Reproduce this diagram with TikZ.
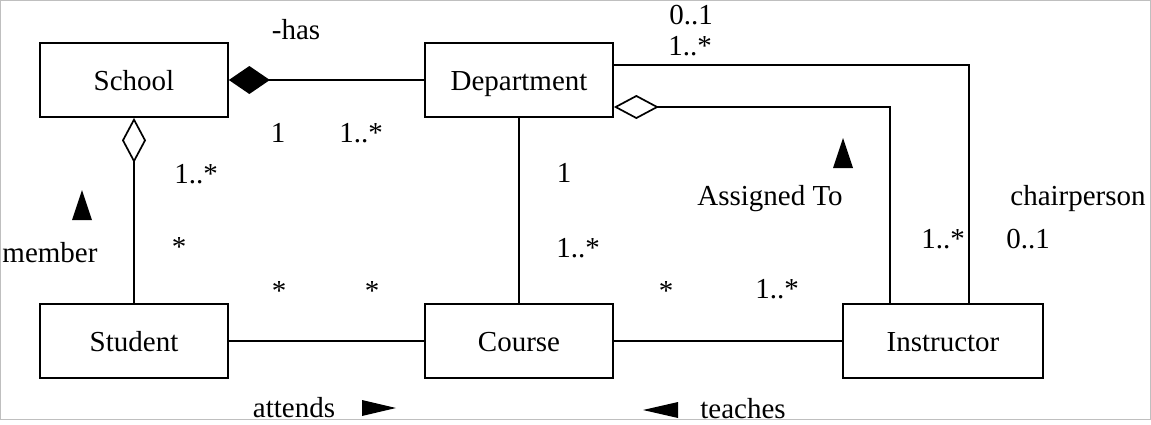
\documentclass[tikz,border=0pt]{standalone}
\usepackage{fontspec}
\setmainfont{Liberation Serif}
\usetikzlibrary{arrows.meta}
\begin{document}
\begin{tikzpicture}[x=1pt,y=-1pt,line width=1.7pt,
  fnt/.style={inner sep=0pt,font=\fontsize{29}{33}\selectfont},
  cls/.style={fnt,draw,text height=20pt,text depth=0pt,minimum width=188pt,minimum height=74pt},
  lbl/.style={fnt,anchor=base},
  mult/.style={fnt,anchor=base},
  dirtri/.style={fill=black,draw=none},
  comp/.style={{Diamond[length=41pt,width=28pt]}-},
  aggr/.style={{Diamond[open,length=45pt,width=24pt]}-}]
\useasboundingbox (0,0) rectangle (1151,424);
\draw[gray!50,line width=1pt] (0.5,0.5) rectangle (1150.5,419);
% classes
\node[cls] (sch) at (134,80) {School};
\node[cls] (dep) at (519,80) {Department};
\node[cls] (stu) at (134,341) {Student};
\node[cls] (crs) at (519,341) {Course};
\node[cls,minimum width=200pt] (ins) at (943,341) {Instructor};
% connectors
\draw[comp] (sch.east) -- (dep.west);
\draw[aggr] (sch.south) -- (stu.north);
\draw (dep.south) -- (crs.north);
\draw (stu.east) -- (crs.west);
\draw (crs.east) -- (ins.west);
\draw ([yshift=15pt]dep.east) -| ([xshift=26pt]ins.north);
\draw[aggr] ([yshift=-27pt]dep.east) -| ([xshift=-53pt]ins.north);
% direction triangles
\fill[dirtri] (82,190) -- (92,220) -- (72,220) -- cycle;
\fill[dirtri] (843,138) -- (853,168) -- (833,168) -- cycle;
\fill[dirtri] (362,400) -- (396,408) -- (362,416) -- cycle;
\fill[dirtri] (678,402) -- (643,410) -- (678,418) -- cycle;
% role / association labels (baselines)
\node[lbl] (has) at (296,39) {-has};
\node[lbl] (member) at (50,262) {member};
\node[lbl] (assigned) at (770,205) {Assigned To};
\node[lbl] (chair) at (1078,205) {chairperson};
\node[lbl] (attends) at (294,417) {attends};
\node[lbl] (teaches) at (743,418) {teaches};
% multiplicities (baselines)
\node[mult] (m1) at (278,142) {1};
\node[mult] (m2) at (361,142) {1..*};
\node[mult] (m3) at (196,183) {1..*};
\node[mult] (m4) at (564,182) {1};
\node[mult] (m5) at (179,256) {*};
\node[mult] (m6) at (578,257) {1..*};
\node[mult] (m7) at (279,300) {*};
\node[mult] (m8) at (372,300) {*};
\node[mult] (m9) at (666,300) {*};
\node[mult] (m10) at (777,298) {1..*};
\node[mult] (m11) at (691,24) {0..1};
\node[mult] (m12) at (690,55) {1..*};
\node[mult] (m13) at (943,248) {1..*};
\node[mult] (m14) at (1028,248) {0..1};
\end{tikzpicture}
\end{document}
